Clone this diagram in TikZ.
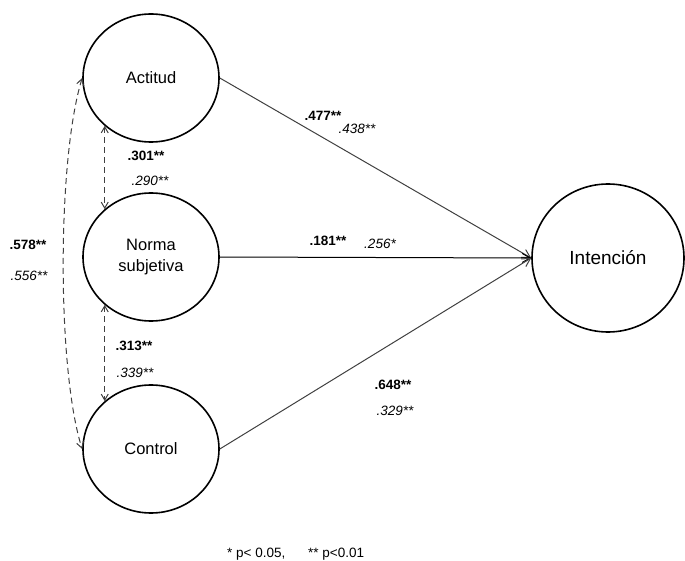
\documentclass[tikz,border=0pt]{standalone}
\usepackage{fontspec}
\setmainfont{Liberation Sans}
\usetikzlibrary{shapes.geometric,arrows.meta}
\begin{document}
\begin{tikzpicture}[x=1pt,y=-1pt,
  construct/.style={ellipse,draw=black,line width=1.6pt,inner sep=0pt,
    minimum width=136pt,minimum height=128pt,font=\fontsize{16.5}{21}\selectfont,align=center},
  path/.style={line width=1pt,-{Straight Barb[length=8pt,width=9pt]}},
  corr/.style={line width=1pt,black!75,dash pattern=on 6pt off 4pt,
    {Straight Barb[length=6pt,width=7pt]}-{Straight Barb[length=6pt,width=7pt]}},
  coefb/.style={font=\fontsize{13.5}{15}\selectfont\bfseries,inner sep=0pt},
  coefi/.style={font=\fontsize{13.5}{15}\selectfont\itshape,inner sep=0pt},
  note/.style={font=\fontsize{13.5}{15}\selectfont,inner sep=0pt,anchor=west}]
\useasboundingbox (0,0) rectangle (685,561);
\node[construct] (a) at (151,78) {Actitud};
\node[construct] (n) at (151,257) {Norma\\subjetiva};
\node[construct] (c) at (151,449) {Control};
\node[construct,minimum width=152pt,minimum height=148pt,font=\fontsize{19}{22}\selectfont] (i) at (608,258) {Intención};

\draw[path,black!75] (a.east) -- (i.west);
\draw[path,black] (n.east) -- (i.west);
\draw[path,black!75] (c.east) -- (i.west);

\draw[corr] (a.west) .. controls (57,160) and (57,370) .. (c.west);
\draw[corr] (a.226) -- (n.134);
\draw[corr] (n.226) -- (c.134);

\node[coefb] (l1) at (146,156) {.301**};
\node[coefi] (l2) at (150,181) {.290**};
\node[coefb] (l3) at (28,245) {.578**};
\node[coefi] (l4) at (29,276) {.556**};
\node[coefb] (l5) at (134,346) {.313**};
\node[coefi] (l6) at (135,373) {.339**};
\node[coefb] (l7) at (323,116) {.477**};
\node[coefi] (l8) at (357,129) {.438**};
\node[coefb] (l9) at (328,241) {.181**};
\node[coefi] (l10) at (380,244) {.256*};
\node[coefb] (l11) at (393,385) {.648**};
\node[coefi] (l12) at (395,411) {.329**};

\node[note] (f1) at (227,554) {* p< 0.05,};
\node[note] (f2) at (308,554) {** p<0.01};
\end{tikzpicture}
\end{document}
